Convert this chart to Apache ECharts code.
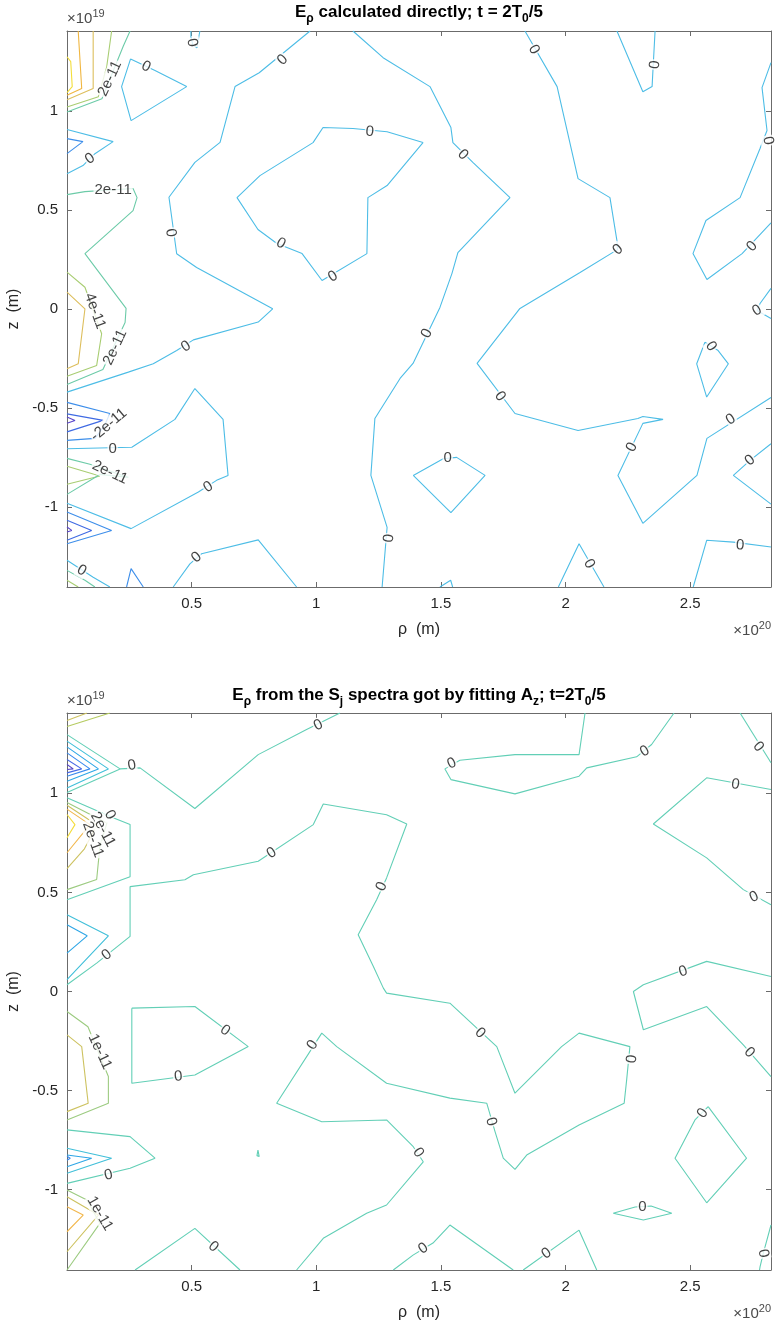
<!DOCTYPE html>
<html><head><meta charset="utf-8">
<script src="https://cdn.jsdelivr.net/npm/echarts@6/dist/echarts.min.js"></script>
<style>html,body{margin:0;padding:0;background:#fff}#c{width:775px;height:1327px}</style>
</head><body><div id="c"></div>
<script>
// ---------- axis extents (data units: rho in 1e20 m, z in 1e19 m) ----------
const RHO_MAX = 2.824;
const Z_MAX = 1.405;

// ---------- TOP PANEL: contour polylines [rho, z] ----------
const topZero = [
 [[0.497,1.405],[0.497,1.375],[0.505,1.335],[0.521,1.320],[0.533,1.405]],
 [[0.255,1.264],[0.353,1.205],[0.480,1.124],[0.257,0.952],[0.219,1.124],[0.255,1.264]],
 [[0.975,1.405],[0.771,1.194],[0.674,1.124],[0.614,0.842],[0.513,0.741],[0.409,0.565],[0.440,0.279],[0.520,0.210],[0.825,0.001],[0.767,-0.066],[0.507,-0.156],[0.440,-0.210],[0.346,-0.277],[0.246,-0.319],[0,-0.420]],
 [[1.147,0.912],[1.027,0.917],[0.987,0.841],[0.774,0.674],[0.682,0.563],[0.766,0.402],[0.842,0.331],[0.943,0.280],[1.023,0.144],[1.203,0.280],[1.207,0.563],[1.284,0.624],[1.428,0.841],[1.284,0.896],[1.147,0.912]],
 [[1.147,1.405],[1.268,1.270],[1.456,1.124],[1.540,0.917],[1.548,0.841],[1.629,0.740],[1.777,0.563],[1.568,0.285],[1.544,0.179],[1.496,0.008],[1.388,-0.275],[1.336,-0.351],[1.235,-0.553],[1.219,-0.841],[1.284,-1.104],[1.264,-1.405]],
 [[1.837,1.405],[1.966,1.124],[2.050,0.659],[2.178,0.563],[2.206,0.346],[2.208,0.300],[2.058,0.184],[1.817,0.003],[1.645,-0.275],[1.797,-0.528],[2.050,-0.614],[2.290,-0.553],[2.310,-0.543],[2.391,-0.558],[2.310,-0.578],[2.210,-0.841],[2.310,-1.083],[2.527,-0.841],[2.567,-0.654],[2.824,-0.447]],
 [[2.206,1.405],[2.310,1.098],[2.347,1.124],[2.351,1.220],[2.359,1.405]],
 [[2.824,1.245],[2.788,1.119],[2.808,0.902],[2.780,0.811],[2.700,0.563],[2.563,0.447],[2.511,0.280],[2.567,0.149],[2.708,0.280],[2.824,0.435]],
 [[2.824,0.104],[2.780,0.028],[2.768,-0.008],[2.824,-0.048]],
 [[2.559,-0.168],[2.526,-0.277],[2.566,-0.445],[2.653,-0.277],[2.612,-0.210],[2.559,-0.168]],
 [[2.824,-0.681],[2.740,-0.765],[2.673,-0.841],[2.824,-0.986]],
 [[2.512,-1.405],[2.566,-1.169],[2.673,-1.178],[2.824,-1.203]],
 [[1.971,-1.405],[2.054,-1.186],[2.154,-1.405]],
 [[1.389,-0.841],[1.509,-0.757],[1.563,-0.750],[1.677,-0.841],[1.540,-1.029],[1.389,-0.841]],
 [[1.496,-1.405],[1.539,-1.371],[1.547,-1.405]],
 [[0,-0.706],[0.260,-0.699],[0.433,-0.558],[0.513,-0.402],[0.626,-0.558],[0.646,-0.841],[0.600,-0.866],[0.527,-0.925],[0.257,-1.110],[0,-0.982]],
 [[0.426,-1.405],[0.493,-1.288],[0.540,-1.237],[0.767,-1.167],[0.921,-1.405]],
 [[0,-1.270],[0.105,-1.356],[0.172,-1.405]],
 [[0,0.907],[0.185,0.846],[0.112,0.785],[0.064,0.725],[0,0.684]]
];
const topTeal = [
 [[0.253,1.405],[0.226,1.329],[0.140,1.063],[0,0.996]],
 [[0,0.578],[0.072,0.593],[0.265,0.609],[0.281,0.563],[0.265,0.497],[0.072,0.280],[0.237,0.003],[0.233,-0.068],[0.144,-0.306],[0,-0.381]],
 [[0,-0.755],[0.092,-0.785],[0.246,-0.851],[0.132,-0.836],[0,-0.937]],
 [[0,-1.321],[0.072,-1.371],[0.112,-1.405]]
];
const topGreen = [
 [[0.179,1.405],[0.159,1.222],[0.126,1.073],[0,1.021]],
 [[0,0.186],[0.072,0.110],[0.139,-0.125],[0.119,-0.285],[0,-0.340]],
 [[0,-0.795],[0.132,-0.844],[0,-0.886]],
 [[0,-1.371],[0.045,-1.405]]
];
const topTan = [
 [[0.105,1.405],[0.105,1.114],[0,1.058]],
 [[0,0.085],[0.072,0.001],[0.045,-0.277],[0,-0.302]]
];
const topOrange = [[[0.045,1.405],[0.059,1.114],[0,1.080]]];
const topYellow = [[[0,1.275],[0.015,1.250],[0.021,1.124],[0,1.094]]];
const topBlue = [
 [[0,0.861],[0.064,0.846],[0,0.785]],
 [[0,-0.472],[0.172,-0.528],[0.150,-0.590],[0.112,-0.654],[0,-0.664]],
 [[0,-1.026],[0.179,-1.119],[0,-1.186]],
 [[0.239,-1.405],[0.257,-1.312],[0.306,-1.405]]
];
const topDarkBlue = [
 [[0,-0.530],[0.145,-0.563],[0,-0.621]],
 [[0,-1.068],[0.099,-1.119],[0,-1.169]]
];
const topPurple = [
 [[0,-0.546],[0.032,-0.563],[0,-0.577]],
 [[0,-1.102],[0.019,-1.119],[0,-1.127]]
];
// [text, rho, z, angle]
const topLabels = [
 ['0',0.502,1.346,-80],['0',0.317,1.225,-26],['0',0.865,1.259,44],['0',0.416,0.385,-82],
 ['0',0.477,-0.189,33],['0',1.215,0.896,-5],['0',0.858,0.331,-29],['0',1.067,0.164,31],
 ['0',1.588,0.780,-45],['0',1.444,-0.124,64],['0',1.292,-1.159,85],['0',1.873,1.311,-60],
 ['0',2.210,0.300,41],['0',1.737,-0.442,-53],['0',2.266,-0.699,64],['0',2.663,-0.558,33],
 ['0',2.359,1.235,85],['0',2.812,0.851,-80],['0',2.748,0.316,47],['0',2.768,-0.008,30],
 ['0',2.583,-0.189,-55],['0',2.740,-0.765,40],['0',2.700,-1.194,-3],['0',2.095,-1.288,-60],
 ['0',1.527,-0.754,0],['0',0.183,-0.706,0],['0',0.567,-0.900,33],['0',0.520,-1.255,40],
 ['0',0.059,-1.321,-30],['0',0.092,0.760,35],
 ['2e-11',0.172,1.164,65],['2e-11',0.185,0.604,0],['2e-11',0.193,-0.194,65],
 ['4e-11',0.112,-0.010,-70],['-2e-11',0.168,-0.585,40],['2e-11',0.172,-0.826,-25]
];

// ---------- BOTTOM PANEL ----------
const botZero = [
 [[0,1.296],[0.213,1.123],[0.293,1.128],[0.513,0.923],[0.767,1.195],[0.961,1.322],[1.095,1.405]],
 [[0.213,1.123],[0,1.004]],
 [[0,0.978],[0.185,0.877],[0.253,0.842],[0.253,0.579],[0,0.463]],
 [[0,0.034],[0.119,0.143],[0.253,0.278],[0.253,0.529],[0.261,0.529],[0.473,0.564],[0.507,0.589],[0.767,0.657],[0.988,0.842],[1.028,0.946],[1.282,0.892],[1.363,0.845],[1.282,0.573],[1.242,0.463],[1.168,0.286],[1.229,0.126],[1.269,0.017],[1.282,-0.008],[1.536,-0.059],[1.724,-0.278],[1.797,-0.513],[1.984,-0.278],[2.054,-0.210],[2.258,-0.278],[2.245,-0.446],[2.235,-0.564],[2.054,-0.673],[1.844,-0.825],[1.797,-0.897],[1.750,-0.841],[1.717,-0.707],[1.684,-0.564],[1.536,-0.538],[1.282,-0.463],[1.082,-0.278],[1.022,-0.210],[0.841,-0.564],[1.022,-0.657],[1.282,-0.648],[1.389,-0.783],[1.429,-0.859],[1.282,-1.077],[1.202,-1.119],[1.028,-1.245],[0.921,-1.405]],
 [[0.260,-0.084],[0.513,-0.076],[0.727,-0.278],[0.513,-0.421],[0.260,-0.463],[0.260,-0.084]],
 [[0.273,-1.405],[0.513,-1.195],[0.694,-1.405]],
 [[0,-0.698],[0.253,-0.732],[0.353,-0.841],[0.253,-0.892],[0,-0.968]],
 [[0.766,-0.800],[0.771,-0.833],[0.768,-0.843],[0.763,-0.838],[0.762,-0.828],[0.766,-0.800]],
 [[1.309,-1.405],[1.388,-1.330],[1.468,-1.269],[1.536,-1.178],[1.790,-1.405]],
 [[1.830,-1.405],[2.054,-1.204],[2.125,-1.405]],
 [[2.191,-1.119],[2.279,-1.087],[2.343,-1.082],[2.426,-1.119],[2.312,-1.153],[2.191,-1.119]],
 [[2.572,-0.581],[2.726,-0.841],[2.566,-1.066],[2.439,-0.841],[2.519,-0.648],[2.572,-0.581]],
 [[2.824,-1.178],[2.793,-1.321],[2.780,-1.389],[2.778,-1.405]],
 [[2.824,0.076],[2.566,0.152],[2.312,0.034],[2.272,0],[2.312,-0.193],[2.566,-0.076],[2.713,-0.269],[2.824,-0.429]],
 [[2.824,0.438],[2.713,0.514],[2.566,0.674],[2.352,0.845],[2.566,1.078],[2.824,1.019]],
 [[2.700,1.405],[2.824,1.154]],
 [[2.435,1.405],[2.345,1.246],[2.285,1.184],[2.085,1.128],[2.054,1.086],[1.797,0.997],[1.540,1.069],[1.516,1.123],[1.576,1.167],[1.797,1.195],[2.054,1.195],[2.078,1.405]]
];
const botCyan = [
 [[0,1.263],[0.166,1.123],[0,1.027]],
 [[0,0.387],[0.166,0.281],[0,0.060]],
 [[0,-0.791],[0.179,-0.841],[0,-0.917]]
];
const botLightBlue = [
 [[0,1.234],[0.126,1.123],[0,1.061]],
 [[0,0.337],[0.081,0.281],[0,0.194]],
 [[0,-0.825],[0.099,-0.841],[0,-0.884]]
];
const botBlue = [
 [[0,1.204],[0.092,1.123],[0,1.086]],
 [[0,-0.831],[0.013,-0.841],[0,-0.851]]
];
const botIndigo = [[[0,1.170],[0.059,1.123],[0,1.103]]];
const botPurple = [[[0,1.145],[0.025,1.123],[0,1.120]]];
const botGreen = [
 [[0,0.953],[0.160,0.850],[0.132,0.732],[0.119,0.565],[0,0.514]],
 [[0,-0.101],[0.084,-0.178],[0.166,-0.429],[0.166,-0.564],[0,-0.648]],
 [[0,-1.002],[0.080,-1.052],[0.132,-1.170],[0,-1.405]]
];
const botOlive = [
 [[0,1.367],[0.080,1.405]],
 [[0,0.940],[0.120,0.840],[0.070,0.720],[0,0.620]],
 [[0,-0.219],[0.059,-0.278],[0.085,-0.564],[0,-0.606]],
 [[0,-1.035],[0.126,-1.128],[0,-1.313]]
];
const botLime = [[[0,1.337],[0.172,1.405]]];
const botOrange = [
 [[0,0.920],[0.092,0.842],[0,0.700]],
 [[0,-1.086],[0.065,-1.128],[0,-1.212]]
];
const botYellow = [[[0,0.893],[0.032,0.842],[0,0.776]]];
const botLabels = [
 ['0',0.260,1.140,10],['0',1.008,1.343,27],['0',0.159,0.185,38],['0',0.821,0.699,34],
 ['0',1.262,0.530,66],['0',1.657,-0.210,-43],['0',2.266,-0.341,85],['0',1.701,-0.657,-75],
 ['0',0.985,-0.270,57],['0',1.409,-0.813,-56],['0',0.634,-0.197,-37],['0',0.446,-0.429,5],
 ['0',0.587,-1.288,-40],['0',0.166,-0.926,12],['0',1.429,-1.296,35],['0',1.924,-1.321,35],
 ['0',2.308,-1.086,0],['0',2.550,-0.614,55],['0',2.793,-1.321,-80],['0',2.472,0.101,18],
 ['0',2.737,-0.308,-45],['0',2.756,0.477,25],['0',2.681,1.044,-8],['0',2.773,1.234,-50],
 ['0',2.318,1.212,30],['0',1.543,1.150,25],['0',0.172,0.892,-60],
 ['2e-11',0.144,0.817,-62],['2e-11',0.104,0.767,-70],
 ['1e-11',0.132,-0.303,-65],['1e-11',0.132,-1.120,-60]
];

// ---------- styling ----------
const FONT = '"Liberation Sans", Arial, Helvetica, sans-serif';
const AX = '#6b6b6b';
const TXT = '#262626';

function lines(group, color, gi) {
  return group.map(pts => ({
    type: 'line', xAxisIndex: gi * 2, yAxisIndex: gi * 2, data: pts,
    symbol: 'none', showSymbol: false, silent: true, animation: false, clip: true,
    lineStyle: { color: color, width: 1.1 }, z: 2
  }));
}
function labels(list, gi) {
  return {
    type: 'scatter', xAxisIndex: gi * 2, yAxisIndex: gi * 2, symbolSize: 1,
    itemStyle: { color: 'rgba(0,0,0,0)' }, silent: true, animation: false, z: 5,
    label: { show: true, position: 'inside', color: '#111', fontSize: 15, fontFamily: FONT,
             backgroundColor: '#fff', padding: [0, 1] },
    data: list.map(l => ({ value: [l[1], l[2]], label: { formatter: l[0], rotate: l[3] } }))
  };
}
const isHalf = v => Math.abs(v * 2 - Math.round(v * 2)) < 1e-6;
const lineCfg = { show: true, onZero: false, lineStyle: { color: AX, width: 1 } };
const tickCfg = { show: true, inside: true, length: 5, lineStyle: { color: AX } };
function xAxes(gi) {
  return [{
    type: 'value', gridIndex: gi, min: 0, max: RHO_MAX, splitNumber: 5, position: 'bottom',
    axisLine: lineCfg, axisTick: tickCfg,
    axisLabel: { color: TXT, fontSize: 15, fontFamily: FONT, margin: 9, showMinLabel: false, showMaxLabel: false,
                 formatter: v => (isHalf(v) && v !== 0) ? String(v) : '' },
    splitLine: { show: false },
    name: 'ρ  (m)', nameLocation: 'middle', nameGap: 35,
    nameTextStyle: { color: TXT, fontSize: 16, fontFamily: FONT }
  }, {
    type: 'value', gridIndex: gi, min: 0, max: RHO_MAX, splitNumber: 5, position: 'top',
    axisLine: lineCfg, axisTick: tickCfg,
    axisLabel: { show: false }, splitLine: { show: false }
  }];
}
function yAxes(gi) {
  return [{
    type: 'value', gridIndex: gi, min: -Z_MAX, max: Z_MAX, splitNumber: 5, position: 'left',
    axisLine: lineCfg, axisTick: tickCfg,
    axisLabel: { color: TXT, fontSize: 15, fontFamily: FONT, margin: 9, showMinLabel: false, showMaxLabel: false,
                 formatter: v => isHalf(v) ? String(v) : '' },
    splitLine: { show: false },
    name: 'z  (m)', nameLocation: 'middle', nameGap: 30,
    nameTextStyle: { color: TXT, fontSize: 16, fontFamily: FONT }
  }, {
    type: 'value', gridIndex: gi, min: -Z_MAX, max: Z_MAX, splitNumber: 5, position: 'right',
    axisLine: lineCfg, axisTick: tickCfg,
    axisLabel: { show: false }, splitLine: { show: false }
  }];
}

const titleRich = {
  b: { fontSize: 17, fontWeight: 'bold', fontFamily: FONT, color: '#000', lineHeight: 25 },
  s: { fontSize: 12, fontWeight: 'bold', fontFamily: FONT, color: '#000', lineHeight: 12, verticalAlign: 'bottom' }
};
const expRich = {
  n: { fontSize: 15, fontWeight: 'normal', fontFamily: FONT, color: '#4a4a4a', lineHeight: 21 },
  p: { fontSize: 11, fontWeight: 'normal', fontFamily: FONT, color: '#4a4a4a', lineHeight: 11, verticalAlign: 'top' }
};

const series = [].concat(
  lines(topYellow, '#F3DE3A', 0), lines(topOrange, '#F0B640', 0), lines(topTan, '#DDBE5C', 0),
  lines(topGreen, '#A8CD72', 0), lines(topTeal, '#6CCBA8', 0), lines(topZero, '#4DBDE6', 0),
  lines(topBlue, '#3D8EEA', 0), lines(topDarkBlue, '#3F6AE3', 0), lines(topPurple, '#5A45CC', 0),
  [labels(topLabels, 0)],
  lines(botYellow, '#F4DC3A', 1), lines(botOrange, '#F2B74C', 1), lines(botOlive, '#CDC260', 1),
  lines(botLime, '#B5CB60', 1), lines(botGreen, '#9CCB80', 1), lines(botZero, '#62CFB6', 1),
  lines(botCyan, '#40BFD9', 1), lines(botLightBlue, '#2EA6E6', 1), lines(botBlue, '#3A8AEE', 1),
  lines(botIndigo, '#4768E4', 1), lines(botPurple, '#5546C8', 1),
  [labels(botLabels, 1)]
);

const chart = echarts.init(document.getElementById('c'));
chart.setOption({
  animation: false,
  backgroundColor: '#fff',
  title: [
    { text: '{b|E}{s|ρ}{b| calculated directly; t = 2T}{s|0}{b|/5}', left: 419, top: 0, textAlign: 'center', padding: 0,
      textStyle: { rich: titleRich } },
    { text: '{b|E}{s|ρ}{b| from the S}{s|j}{b| spectra got by fitting A}{s|z}{b|; t=2T}{s|0}{b|/5}', left: 419, top: 683, textAlign: 'center', padding: 0,
      textStyle: { rich: titleRich } },
    { text: '{n|×10}{p|19}', left: 67, top: 8, padding: 0, textStyle: { fontWeight: 'normal', rich: expRich } },
    { text: '{n|×10}{p|20}', left: 771, top: 620, textAlign: 'right', padding: 0, textStyle: { fontWeight: 'normal', rich: expRich } },
    { text: '{n|×10}{p|19}', left: 67, top: 690, padding: 0, textStyle: { fontWeight: 'normal', rich: expRich } },
    { text: '{n|×10}{p|20}', left: 771, top: 1303, textAlign: 'right', padding: 0, textStyle: { fontWeight: 'normal', rich: expRich } }
  ],
  grid: [
    { left: 67, top: 31, width: 704, height: 556, containLabel: false, outerBoundsMode: 'none' },
    { left: 67, top: 713, width: 704, height: 557, containLabel: false, outerBoundsMode: 'none' }
  ],
  xAxis: [].concat(xAxes(0), xAxes(1)),
  yAxis: [].concat(yAxes(0), yAxes(1)),
  series: series
});
</script></body></html>
